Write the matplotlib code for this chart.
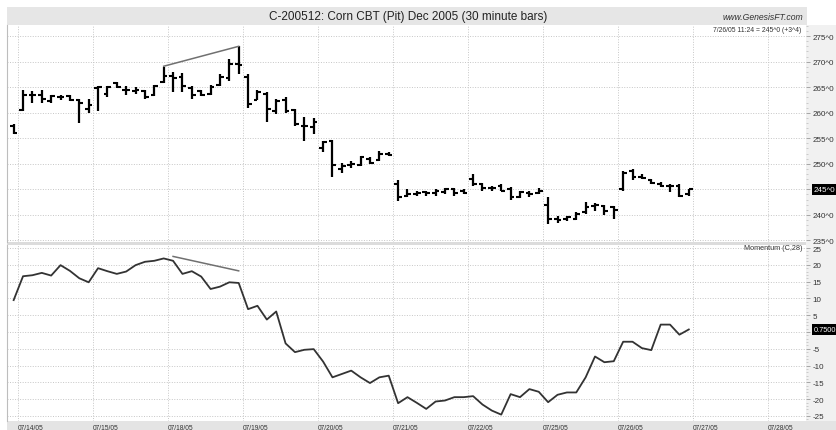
import matplotlib
matplotlib.use("Agg")
import matplotlib.pyplot as plt
import matplotlib.transforms as mtransforms
from matplotlib.patches import Rectangle
from matplotlib.ticker import MultipleLocator

plt.rcParams["font.family"] = ["Liberation Sans", "DejaVu Sans"]

W, H = 836, 431

# --- data: 30 minute bars, slot -1 = last bar of 07/13, 8 bars per session ---
slots = list(range(-1, 72))
opens = [257.5,
         260.5, 263.5, 263.5, 262.25, 263.0, 263.25, 262.5, 260.75,
         264.75, 263.75, 265.75, 264.5, 264.25, 264.25, 263.5, 266.0,
         267.25, 267.0, 264.75, 264.25, 263.75, 265.5, 266.75, 269.5,
         267.0, 262.5, 263.75, 260.25, 262.5, 260.5, 257.5, 257.25,
         253.0, 254.5, 249.0, 249.75, 249.75, 251.0, 250.75, 252.0,
         246.0, 243.75, 244.0, 244.5, 244.25, 244.5, 245.0, 244.75,
         247.0, 246.0, 245.25, 245.75, 245.0, 243.5, 244.25, 244.25,
         242.0, 239.25, 239.25, 239.25, 240.5, 241.75, 241.75, 241.5,
         245.0, 248.5, 247.5, 246.75, 246.0, 245.75, 245.75, 244.0]
highs = [257.75,
         264.5, 264.25, 264.5, 263.5, 263.5, 263.5, 262.75, 262.75,
         265.25, 265.25, 266.0, 265.25, 265.0, 264.5, 265.5, 269.0,
         268.0, 267.75, 265.25, 264.5, 265.5, 267.5, 270.5, 273.0,
         267.5, 264.5, 264.0, 262.75, 263.0, 260.75, 259.25, 259.0,
         254.5, 254.75, 250.25, 250.5, 251.5, 251.25, 252.5, 252.25,
         246.75, 245.0, 244.75, 244.75, 245.0, 245.25, 245.25, 245.0,
         248.0, 246.25, 245.75, 246.0, 245.5, 244.75, 244.75, 245.25,
         243.5, 239.75, 239.75, 240.5, 242.5, 242.25, 242.0, 241.75,
         248.5, 249.0, 248.0, 247.0, 246.5, 246.0, 246.0, 245.0]
lows = [255.75,
        260.25, 262.0, 262.0, 262.0, 262.5, 262.25, 258.0, 260.0,
        260.25, 263.0, 264.75, 263.5, 263.75, 262.75, 263.25, 265.75,
        264.0, 264.0, 262.75, 263.25, 263.5, 265.25, 266.25, 267.5,
        261.0, 262.5, 258.25, 259.75, 260.0, 257.5, 254.5, 255.75,
        252.25, 247.5, 248.25, 249.25, 249.5, 250.0, 250.5, 251.5,
        242.75, 243.5, 243.75, 243.75, 243.75, 244.0, 243.75, 244.0,
        245.75, 244.75, 244.75, 244.75, 243.0, 243.25, 243.5, 244.0,
        238.25, 238.5, 238.75, 239.0, 240.25, 240.75, 240.0, 239.25,
        244.75, 246.75, 247.0, 246.0, 245.5, 244.5, 243.5, 243.75]
closes = [256.0,
          263.5, 263.5, 262.75, 263.25, 263.0, 262.5, 262.0, 261.5,
          265.0, 265.0, 265.0, 264.5, 264.5, 263.0, 265.25, 267.25,
          266.75, 265.25, 263.5, 263.5, 265.0, 267.0, 269.5, 269.25,
          261.75, 264.0, 260.75, 262.25, 260.25, 257.75, 257.5, 258.25,
          254.25, 249.75, 249.5, 250.0, 251.25, 250.25, 252.0, 251.75,
          243.5, 244.0, 244.25, 244.25, 244.75, 245.0, 244.25, 244.25,
          246.0, 245.25, 245.25, 244.75, 243.5, 244.5, 244.0, 244.75,
          239.25, 239.0, 239.5, 240.25, 241.5, 242.0, 240.75, 241.0,
          248.25, 247.5, 247.25, 246.25, 245.75, 245.75, 243.75, 245.0]
momentum = [9.5,
            16.6, 16.9, 17.6, 16.8, 19.9, 18.2, 16.0, 14.8,
            19.0, 18.1, 17.3, 18.0, 19.9, 20.9, 21.2, 21.9,
            21.2, 17.3, 18.1, 16.5, 12.8, 13.5, 14.8, 14.6,
            6.8, 7.8, 3.7, 6.1, -3.4, -6.0, -5.3, -5.1,
            -8.8, -13.5, -12.5, -11.5, -13.5, -15.2, -13.5, -13.0,
            -21.2, -19.4, -21.1, -22.9, -20.7, -20.4, -19.4, -19.4,
            -19.1, -21.6, -23.4, -24.6, -18.5, -19.4, -17.0, -17.8,
            -20.9, -18.7, -18.0, -18.0, -13.5, -7.3, -9.0, -8.7,
            -2.9, -2.9, -4.8, -5.4, 2.2, 2.2, -0.8, 0.75]

day_labels = ["07/14/05", "07/15/05", "07/18/05", "07/19/05", "07/20/05", "07/21/05",
              "07/22/05", "07/25/05", "07/26/05", "07/27/05", "07/28/05"]
bars_per_day = 8
day_start = [bars_per_day * d - 0.53 for d in range(len(day_labels))]

price_ticks = list(range(235, 280, 5))
mom_ticks = list(range(-25, 30, 5))

# trend lines drawn on the chart (slot, value)
price_trend = ([15, 23], [269.1, 273.0])
mom_trend = ([16, 23], [22.5, 18.2])

last_price, last_mom = 245.0, 0.75

GRID = "#c6c6c6"


def frame(x0, y0, x1, y1):
    """pixel box (top-left origin) -> figure fraction rect"""
    return [x0 / W, 1 - y1 / H, (x1 - x0) / W, (y1 - y0) / H]


def band(x0, y0, x1, y1, color):
    fig.patches.append(Rectangle((x0 / W, 1 - y1 / H), (x1 - x0) / W, (y1 - y0) / H,
                                 transform=fig.transFigure, facecolor=color,
                                 edgecolor="none", zorder=-5))


fig = plt.figure(figsize=(W / 100, H / 100), dpi=100)
band(7, 8, 807, 26, "#e6e6e6")
band(806, 26, 836, 422, "#f1f1f1")
band(7, 422, 836, 431, "#e4e4e4")
band(7, 243, 806, 246, "#dcdcdc")

ax = fig.add_axes(frame(7, 26, 806, 243))
ax2 = fig.add_axes(frame(7, 246, 806, 422))

for a in (ax, ax2):
    a.set_xlim(-1.71, 83.5)
    a.set_xticks(day_start)
    a.grid(True, which="major", linestyle=(0, (1, 1.6)), color=GRID, linewidth=0.7)
    a.set_axisbelow(True)
    for side in ("top", "right", "bottom"):
        a.spines[side].set_visible(False)
    a.spines["left"].set_color("#bdbdbd")
    a.yaxis.tick_right()
    a.tick_params(axis="y", which="major", length=3, width=0.6, color="#999999",
                  labelsize=5.8, labelcolor="#333333", pad=1.5)
    a.tick_params(axis="y", which="minor", length=1.5, width=0.5, color="#bbbbbb")
    a.yaxis.set_minor_locator(MultipleLocator(1))

# price bars
ax.set_ylim(234.7, 277.17)
ax.set_yticks(price_ticks)
ax.set_yticklabels(["" if v == 245 else f"{v}^0" for v in price_ticks])
ax.tick_params(axis="x", length=0, labelbottom=False)
ax.vlines(slots, lows, highs, color="black", linewidth=1.6)
ax.hlines(opens, [s - 0.4 for s in slots], slots, color="black", linewidth=1.5)
ax.hlines(closes, slots, [s + 0.4 for s in slots], color="black", linewidth=1.5)
ax.plot(price_trend[0], price_trend[1], color="#707070", linewidth=1.1)

# momentum
ax2.set_ylim(-26.5, 25.9)
ax2.set_yticks(mom_ticks)
ax2.set_yticklabels(["" if v == 0 else str(v) for v in mom_ticks])
ax2.plot(slots, momentum, color="#333333", linewidth=1.3)
ax2.plot(mom_trend[0], mom_trend[1], color="#707070", linewidth=1.1)
ax2.set_xticklabels(day_labels, ha="left", fontsize=4.8, color="#333333")
ax2.tick_params(axis="x", length=0, pad=2.2)

# last value boxes on the right scale
box_x = (814 - 7) / (806 - 7)
for a, val, txt, fs in ((ax, last_price, "245^0", 5.8), (ax2, last_mom, "0.7500", 5.3)):
    tr = mtransforms.blended_transform_factory(a.transAxes, a.transData)
    a.text(box_x, val, txt, transform=tr, ha="left", va="center", fontsize=fs,
           color="white", bbox=dict(boxstyle="square,pad=0.25", fc="black", ec="none"))

fig.text(408 / W, 1 - 17 / H, "C-200512: Corn CBT (Pit) Dec 2005 (30 minute bars)",
         ha="center", va="center", fontsize=8.5, color="#222222")
fig.text(803 / W, 1 - 17 / H, "www.GenesisFT.com", ha="right", va="center",
         fontsize=6.2, style="italic", color="#333333")
fig.text(801 / W, 1 - 30 / H, "7/26/05 11:24 = 245^0 (+3^4)", ha="right", va="center",
         fontsize=4.9, color="#333333")
fig.text(802 / W, 1 - 249 / H, "Momentum (C,28)", ha="right", va="center",
         fontsize=5.2, color="#333333")

fig.savefig("out.png", dpi=100)
